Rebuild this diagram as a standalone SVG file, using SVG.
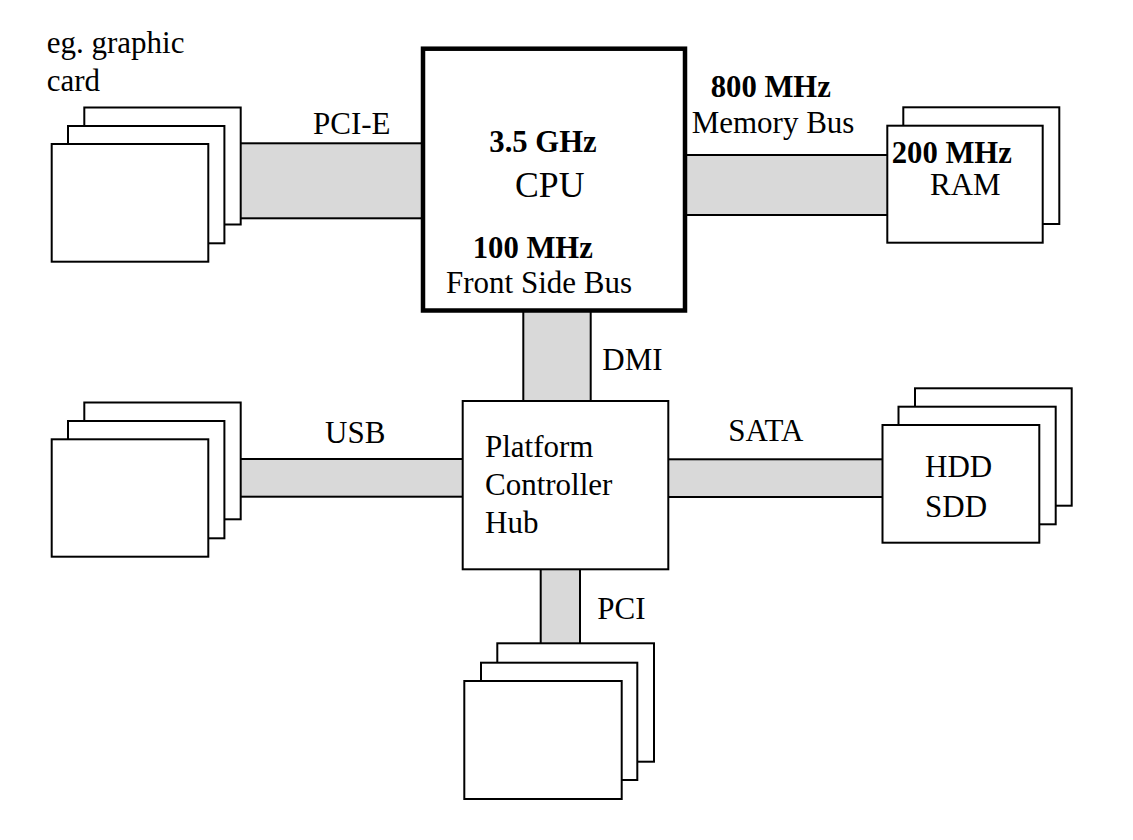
<svg xmlns="http://www.w3.org/2000/svg" width="1133" height="840" viewBox="0 0 1133 840">
<style>
.bus{fill:#d9d9d9;stroke:#000;stroke-width:2}
.box{fill:#fff;stroke:#000;stroke-width:2}
.cpu{fill:#fff;stroke:#000;stroke-width:4.5}
text{font-family:"Liberation Serif","Times New Roman",serif;font-size:31px;font-weight:normal;fill:#000}
.b{font-weight:bold;font-size:30.7px}
</style>
<rect width="1133" height="840" fill="#fff"/>
<g id="connectors">
<rect id="pcie" class="bus" x="238" y="143.3" width="187" height="75"/>
<rect id="membus" class="bus" x="683" y="155" width="206" height="60"/>
<rect id="dmi" class="bus" x="523.3" y="308" width="67.4" height="94"/>
<rect id="usb" class="bus" x="238" y="459" width="226" height="37.7"/>
<rect id="sata" class="bus" x="667" y="459.3" width="217" height="37.7"/>
<rect id="pci" class="bus" x="540.7" y="568" width="39.3" height="77"/>
<text x="313" y="134">PCI-E</text>
<text x="325" y="442.7">USB</text>
<text x="602.3" y="370">DMI</text>
<text x="728.3" y="441">SATA</text>
<text x="597.3" y="619">PCI</text>
</g>
<g id="graphic-card">
<rect class="box" x="84.3" y="107.5" width="156.4" height="117"/>
<rect class="box" x="68" y="126" width="156.4" height="117.3"/>
<rect class="box" x="51.7" y="144" width="156.6" height="117.7"/>
<text x="46.7" y="53">eg. graphic</text>
<text x="46.7" y="90.7">card</text>
</g>
<g id="cpu">
<rect class="cpu" x="423" y="48.7" width="262" height="261.8"/>
<text class="b" x="489.3" y="151.7">3.5 GHz</text>
<text x="515" y="196.7" style="font-size:35.7px">CPU</text>
<text class="b" x="472.7" y="257.7">100 MHz</text>
<text x="446" y="293.3">Front Side Bus</text>
</g>
<g id="memory-bus-label">
<text class="b" x="710.7" y="96.7">800 MHz</text>
<text x="691.7" y="132.7">Memory Bus</text>
</g>
<g id="ram">
<rect class="box" x="903.3" y="107.3" width="156" height="116.7"/>
<rect class="box" x="887.3" y="125.7" width="155.4" height="117"/>
<text class="b" x="891.7" y="162.7">200 MHz</text>
<text x="930" y="195">RAM</text>
</g>
<g id="usb-devices">
<rect class="box" x="84.3" y="402.5" width="156.4" height="116.8"/>
<rect class="box" x="68" y="421" width="156.4" height="117.3"/>
<rect class="box" x="51.7" y="439.3" width="156.6" height="117.4"/>
</g>
<g id="pch">
<rect class="box" x="462.7" y="401" width="205.6" height="168.3"/>
<text x="485" y="456.7">Platform</text>
<text x="485" y="495">Controller</text>
<text x="485" y="533.3">Hub</text>
</g>
<g id="storage">
<rect class="box" x="915" y="388.3" width="156.7" height="117.4"/>
<rect class="box" x="898.5" y="406.7" width="157.2" height="117.6"/>
<rect class="box" x="882.5" y="425" width="156.8" height="117.7"/>
<text x="925" y="477.3">HDD</text>
<text x="925" y="516.7">SDD</text>
</g>
<g id="pci-devices">
<rect class="box" x="497.3" y="643.3" width="156.7" height="118.4"/>
<rect class="box" x="481" y="662.7" width="156.3" height="117.3"/>
<rect class="box" x="464.3" y="681" width="157.4" height="118"/>
</g>
</svg>
